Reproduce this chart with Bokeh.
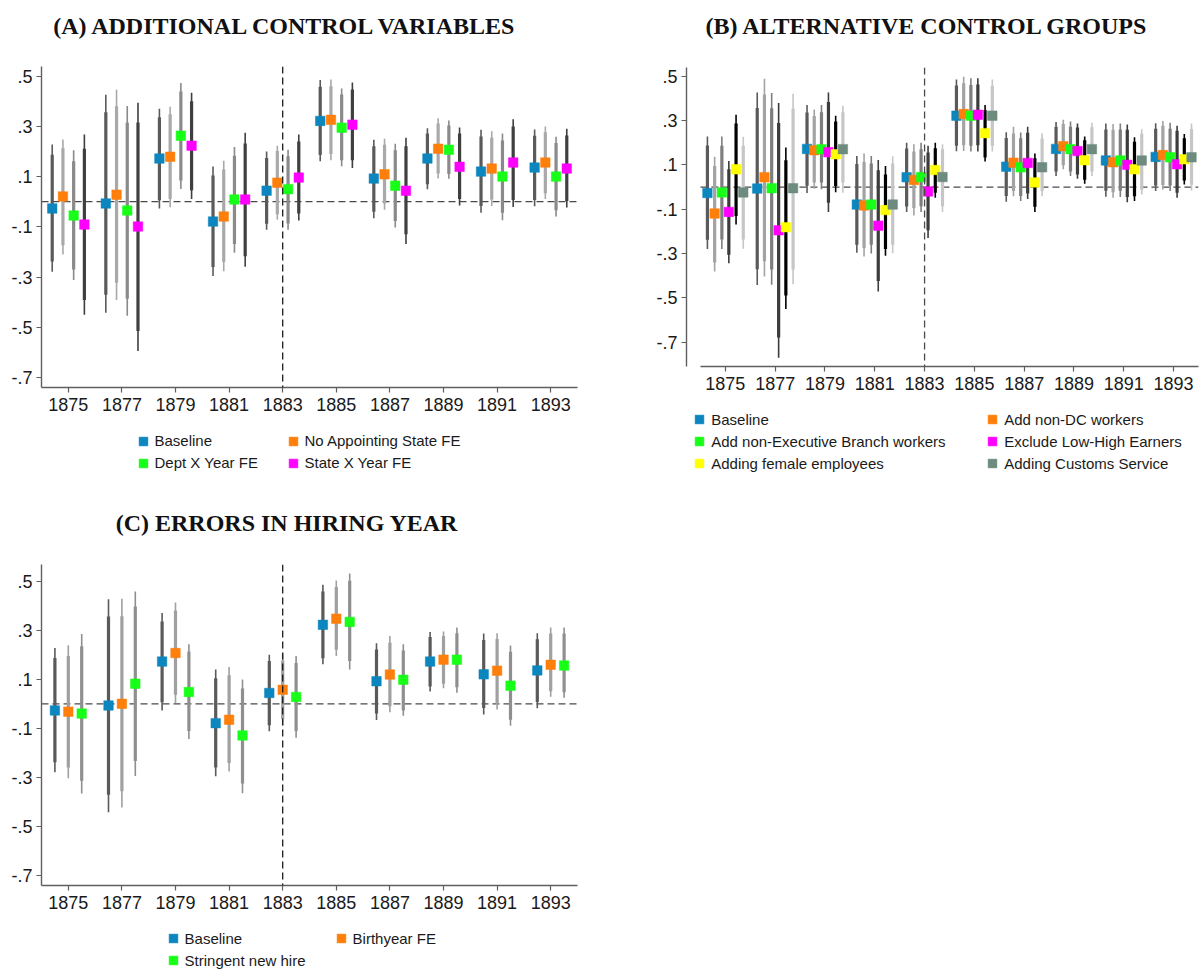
from bokeh.plotting import figure
from bokeh.models import Range1d, FixedTicker, Span, Legend, LegendItem
from bokeh.layouts import row, column
from bokeh.embed import file_html
from bokeh.resources import INLINE
from bokeh.core.properties import value

# ---------------- data ----------------
years = [1875, 1877, 1879, 1881, 1883, 1885, 1887, 1889, 1891, 1893]
year_labels = ["1875", "1877", "1879", "1881", "1883", "1885", "1887", "1889", "1891", "1893"]
y_ticks = [0.5, 0.3, 0.1, -0.1, -0.3, -0.5, -0.7]
y_tick_labels = [".5", ".3", ".1", "-.1", "-.3", "-.5", "-.7"]
treatment_year = 1883

# Baseline (shared by all panels)
base_est  = [-0.027, -0.007, 0.172, -0.079, 0.044, 0.322, 0.092, 0.172, 0.120, 0.136]
base_hi95 = [0.228, 0.426, 0.370, 0.140, 0.200, 0.485, 0.247, 0.293, 0.287, 0.288]
base_lo95 = [-0.279, -0.442, -0.027, -0.296, -0.112, 0.161, -0.066, 0.050, -0.044, -0.018]
base_hi90 = [0.187, 0.356, 0.336, 0.104, 0.174, 0.458, 0.221, 0.272, 0.260, 0.263]
base_lo90 = [-0.238, -0.371, 0.006, -0.260, -0.088, 0.186, -0.040, 0.070, -0.017, 0.007]

# Panel A
noapp_est  = [0.021, 0.028, 0.179, -0.059, 0.076, 0.326, 0.109, 0.211, 0.132, 0.156]
noapp_hi95 = [0.248, 0.446, 0.378, 0.163, 0.223, 0.487, 0.251, 0.332, 0.281, 0.300]
noapp_lo95 = [-0.210, -0.391, -0.022, -0.277, -0.072, 0.165, -0.032, 0.092, -0.017, 0.011]
noapp_hi90 = [0.213, 0.380, 0.348, 0.128, 0.202, 0.460, 0.227, 0.312, 0.255, 0.277]
noapp_lo90 = [-0.173, -0.323, 0.011, -0.240, -0.050, 0.190, -0.007, 0.112, 0.009, 0.034]

dept_est  = [-0.055, -0.035, 0.263, 0.009, 0.050, 0.295, 0.064, 0.207, 0.100, 0.100]
dept_hi95 = [0.205, 0.381, 0.473, 0.218, 0.207, 0.451, 0.231, 0.324, 0.272, 0.259]
dept_lo95 = [-0.312, -0.454, 0.051, -0.203, -0.112, 0.141, -0.103, 0.091, -0.074, -0.059]
dept_hi90 = [0.161, 0.315, 0.439, 0.183, 0.181, 0.427, 0.205, 0.304, 0.244, 0.234]
dept_lo90 = [-0.270, -0.386, 0.085, -0.168, -0.087, 0.165, -0.077, 0.110, -0.044, -0.034]

state_est  = [-0.091, -0.099, 0.223, 0.009, 0.096, 0.307, 0.044, 0.139, 0.156, 0.132]
state_hi95 = [0.268, 0.394, 0.434, 0.275, 0.268, 0.475, 0.255, 0.296, 0.328, 0.291]
state_lo95 = [-0.450, -0.595, 0.011, -0.259, -0.075, 0.134, -0.168, -0.015, -0.021, -0.023]
state_hi90 = [0.211, 0.316, 0.400, 0.232, 0.240, 0.447, 0.221, 0.272, 0.300, 0.264]
state_lo90 = [-0.391, -0.515, 0.046, -0.217, -0.047, 0.165, -0.130, 0.011, 0.007, 0.003]

# Panel B
nondc_est  = [-0.119, 0.044, 0.166, -0.083, 0.032, 0.329, 0.110, 0.184, 0.112, 0.144]
nondc_hi95 = [0.137, 0.488, 0.350, 0.151, 0.193, 0.497, 0.272, 0.304, 0.284, 0.298]
nondc_lo95 = [-0.381, -0.403, -0.008, -0.313, -0.128, 0.163, -0.042, 0.080, -0.048, -0.011]
nondc_hi90 = [0.095, 0.417, 0.320, 0.113, 0.160, 0.468, 0.242, 0.284, 0.258, 0.276]
nondc_lo90 = [-0.340, -0.335, 0.020, -0.275, -0.094, 0.189, -0.018, 0.098, -0.023, 0.009]

nonexec_est  = [-0.024, -0.005, 0.171, -0.079, 0.045, 0.322, 0.089, 0.171, 0.120, 0.134]
nonexec_hi95 = [0.228, 0.424, 0.370, 0.140, 0.200, 0.490, 0.246, 0.296, 0.287, 0.290]
nonexec_lo95 = [-0.279, -0.441, -0.010, -0.300, -0.112, 0.160, -0.063, 0.050, -0.045, -0.018]
nonexec_hi90 = [0.186, 0.355, 0.337, 0.106, 0.170, 0.460, 0.220, 0.272, 0.260, 0.263]
nonexec_lo90 = [-0.237, -0.372, 0.020, -0.260, -0.086, 0.186, -0.040, 0.070, -0.017, 0.007]

lowhigh_est  = [-0.112, -0.195, 0.157, -0.174, -0.020, 0.326, 0.109, 0.162, 0.100, 0.103]
lowhigh_hi95 = [0.118, 0.379, 0.426, 0.122, 0.186, 0.490, 0.272, 0.287, 0.282, 0.276]
lowhigh_lo95 = [-0.343, -0.769, -0.112, -0.471, -0.230, 0.160, -0.054, 0.038, -0.069, -0.048]
lowhigh_hi90 = [0.080, 0.289, 0.384, 0.076, 0.156, 0.462, 0.245, 0.269, 0.258, 0.254]
lowhigh_lo90 = [-0.305, -0.678, -0.071, -0.424, -0.195, 0.189, -0.029, 0.057, -0.045, -0.026]

female_est  = [0.080, -0.181, 0.148, -0.104, 0.077, 0.243, 0.021, 0.121, 0.080, 0.125]
female_hi95 = [0.326, 0.178, 0.322, 0.095, 0.200, 0.370, 0.151, 0.228, 0.224, 0.239]
female_lo95 = [-0.169, -0.550, -0.023, -0.310, -0.048, 0.115, -0.112, 0.015, -0.063, 0.012]
female_hi90 = [0.287, 0.121, 0.295, 0.057, 0.175, 0.347, 0.130, 0.211, 0.204, 0.220]
female_lo90 = [-0.130, -0.489, 0.005, -0.279, -0.026, 0.133, -0.089, 0.033, -0.041, 0.030]

customs_est  = [-0.024, -0.005, 0.171, -0.079, 0.045, 0.322, 0.089, 0.171, 0.120, 0.134]
customs_hi95 = [0.227, 0.421, 0.367, 0.139, 0.193, 0.485, 0.242, 0.290, 0.261, 0.287]
customs_lo95 = [-0.278, -0.438, -0.026, -0.298, -0.112, 0.160, -0.041, 0.050, -0.033, -0.015]
customs_hi90 = [0.186, 0.353, 0.337, 0.106, 0.170, 0.457, 0.219, 0.270, 0.240, 0.262]
customs_lo90 = [-0.237, -0.372, 0.020, -0.260, -0.086, 0.186, -0.018, 0.070, -0.012, 0.010]

# Panel C
birth_est  = [-0.032, 0.000, 0.207, -0.065, 0.057, 0.347, 0.119, 0.180, 0.135, 0.159]
birth_hi95 = [0.239, 0.428, 0.413, 0.150, 0.204, 0.503, 0.276, 0.295, 0.288, 0.311]
birth_lo95 = [-0.304, -0.423, 0.003, -0.276, -0.088, 0.195, -0.035, 0.063, -0.023, 0.029]
birth_hi90 = [0.195, 0.357, 0.380, 0.116, 0.177, 0.476, 0.249, 0.276, 0.264, 0.287]
birth_lo90 = [-0.260, -0.357, 0.037, -0.241, -0.062, 0.220, -0.010, 0.082, 0.000, 0.051]

strict_est  = [-0.040, 0.082, 0.048, -0.129, 0.028, 0.334, 0.098, 0.180, 0.074, 0.156]
strict_hi95 = [0.285, 0.458, 0.243, 0.099, 0.195, 0.531, 0.243, 0.311, 0.238, 0.311]
strict_lo95 = [-0.366, -0.294, -0.144, -0.365, -0.139, 0.140, -0.049, 0.045, -0.090, 0.025]
strict_hi90 = [0.235, 0.397, 0.213, 0.062, 0.166, 0.502, 0.217, 0.288, 0.212, 0.287]
strict_lo90 = [-0.314, -0.233, -0.111, -0.325, -0.111, 0.174, -0.027, 0.067, -0.065, 0.047]

# ---------------- style ----------------
BLUE, ORANGE, GREEN, MAGENTA, YELLOW, TEAL = "#0c86be", "#fe7f0a", "#17ff17", "#ff00ff", "#ffff00", "#6d8b7e"
AXIS_C = "#5f5f5f"
SANS = "Liberation Sans"
SERIF = "Liberation Serif"
MARKER_SIZE = 9.5


def series(label, est, lo95, hi95, lo90, hi90, mcolor, bcolor):
    return dict(label=label, est=est, lo95=lo95, hi95=hi95, lo90=lo90, hi90=hi90,
                mcolor=mcolor, bcolor=bcolor)


def no_align(p):
    if "frame_align" in p.properties():
        p.frame_align = False


def blank_fig(width, height):
    p = figure(width=width, height=height, x_range=Range1d(0, width), y_range=Range1d(0, height),
               x_axis_location=None, y_axis_location=None, output_backend="svg",
               toolbar_location=None, min_border=0, title=None)
    p.grid.visible = False
    p.outline_line_color = None
    p.background_fill_color = "white"
    p.border_fill_color = "white"
    no_align(p)
    return p


def title_fig(width, height, text, cx, baseline_y):
    p = blank_fig(width, height)
    p.text(x=[cx], y=[baseline_y], text=[text], text_font=value(SERIF), text_font_style="bold",
           text_font_size="24px", text_align="center", text_baseline="alphabetic",
           text_color="#111111")
    return p


def legend_fig(width, height, ser, loc, label_w):
    # legend-only panel: the series are plotted in data coordinates (years), which lie
    # outside this panel's pixel range, so only their legend entries are visible
    p = blank_fig(width, height)
    items = []
    for s in ser:
        r = p.scatter(x=years, y=s["est"], marker="square", size=MARKER_SIZE,
                      fill_color=s["mcolor"], line_color=s["mcolor"], line_width=0.5)
        items.append(LegendItem(label=s["label"], renderers=[r]))
    legend = Legend(items=items, location=loc, orientation="horizontal", ncols=2,
                    glyph_width=22, glyph_height=22, label_height=22, label_width=int(label_w),
                    label_standoff=1, spacing=0, padding=0, margin=0,
                    border_line_color=None, background_fill_alpha=0,
                    label_text_font=SANS, label_text_font_size="15px",
                    label_text_color="#1a1a1a")
    p.add_layout(legend)
    return p


def plot_fig(width, height, borders, xr, yr, x_bounds, ser, offsets, vline_color):
    bl, br, bt, bb = borders
    p = figure(width=width, height=height, x_range=Range1d(*xr), y_range=Range1d(*yr),
               output_backend="svg", toolbar_location=None, title=None,
               min_border_left=bl, min_border_right=br, min_border_top=bt, min_border_bottom=bb)
    no_align(p)
    p.grid.visible = False
    p.outline_line_color = None
    p.background_fill_color = "white"
    p.border_fill_color = "white"

    xa, ya = p.xaxis[0], p.yaxis[0]
    xa.ticker = FixedTicker(ticks=years)
    xa.major_label_overrides = {y: l for y, l in zip(years, year_labels)}
    xa.bounds = x_bounds
    ya.ticker = FixedTicker(ticks=y_ticks)
    ya.major_label_overrides = {t: l for t, l in zip(y_ticks, y_tick_labels)}
    for ax in (xa, ya):
        ax.axis_line_color = AXIS_C
        ax.axis_line_width = 1.4
        ax.major_tick_line_color = AXIS_C
        ax.major_tick_line_width = 1.2
        ax.major_tick_in = 0
        ax.major_tick_out = 5
        ax.minor_tick_line_color = None
        ax.major_label_text_font = SANS
        ax.major_label_text_font_size = "18px"
        ax.major_label_text_color = "#1a1a1a"
    xa.major_label_standoff = 5
    ya.major_label_standoff = 4

    # reference lines
    p.segment(x0=[x_bounds[0]], y0=[0], x1=[x_bounds[1]], y1=[0],
              line_color="#4a4a4a", line_width=1.3, line_dash="7 4")
    p.add_layout(Span(location=treatment_year, dimension="height", line_color=vline_color,
                      line_width=1.3, line_dash="7 4"))

    # confidence intervals (95% thin, 90% thick)
    for s, off in zip(ser, offsets):
        xs = [y + off for y in years]
        p.segment(x0=xs, y0=s["lo95"], x1=xs, y1=s["hi95"], line_color=s["bcolor"], line_width=1.6)
        p.segment(x0=xs, y0=s["lo90"], x1=xs, y1=s["hi90"], line_color=s["bcolor"], line_width=3.2)

    # point estimates
    for s, off in zip(ser, offsets):
        xs = [y + off for y in years]
        p.scatter(x=xs, y=s["est"], marker="square", size=MARKER_SIZE,
                  fill_color=s["mcolor"], line_color=s["mcolor"], line_width=0.5)
    return p


panel_a = [
    series("Baseline", base_est, base_lo95, base_hi95, base_lo90, base_hi90, BLUE, "#5a5a5a"),
    series("No Appointing State FE", noapp_est, noapp_lo95, noapp_hi95, noapp_lo90, noapp_hi90, ORANGE, "#a9a9a9"),
    series("Dept X Year FE", dept_est, dept_lo95, dept_hi95, dept_lo90, dept_hi90, GREEN, "#8a8a8a"),
    series("State X Year FE", state_est, state_lo95, state_hi95, state_lo90, state_hi90, MAGENTA, "#3f3f3f"),
]
panel_b = [
    series("Baseline", base_est, base_lo95, base_hi95, base_lo90, base_hi90, BLUE, "#5a5a5a"),
    series("Add non-DC workers", nondc_est, nondc_lo95, nondc_hi95, nondc_lo90, nondc_hi90, ORANGE, "#a3a3a3"),
    series("Add non-Executive Branch workers", nonexec_est, nonexec_lo95, nonexec_hi95, nonexec_lo90, nonexec_hi90, GREEN, "#7e7e7e"),
    series("Exclude Low-High Earners", lowhigh_est, lowhigh_lo95, lowhigh_hi95, lowhigh_lo90, lowhigh_hi90, MAGENTA, "#3c3c3c"),
    series("Adding female employees", female_est, female_lo95, female_hi95, female_lo90, female_hi90, YELLOW, "#000000"),
    series("Adding Customs Service", customs_est, customs_lo95, customs_hi95, customs_lo90, customs_hi90, TEAL, "#c6c6c6"),
]
panel_c = [
    series("Baseline", base_est, base_lo95, base_hi95, base_lo90, base_hi90, BLUE, "#5a5a5a"),
    series("Birthyear FE", birth_est, birth_lo95, birth_hi95, birth_lo90, birth_hi90, ORANGE, "#a0a0a0"),
    series("Stringent new hire", strict_est, strict_lo95, strict_hi95, strict_lo90, strict_hi90, GREEN, "#8f8f8f"),
]

# ---- left column (A then C) ----
tA = title_fig(600, 50, "(A) ADDITIONAL CONTROL VARIABLES", 285.5, 25)
pA = plot_fig(600, 370, (41, 23, 16, 33), (1874, 1894), (-0.740, 0.5386), (1874, 1894),
              panel_a, [-0.6, -0.2, 0.2, 0.6], "#1a1a1a")
lA = legend_fig(600, 60, panel_a, (131.5, 6.3), 127)
tC = title_fig(600, 60, "(C) ERRORS IN HIRING YEAR", 286.5, 17.3)
pC = plot_fig(600, 380, (41, 23, 24, 35), (1874, 1894), (-0.741, 0.568), (1874, 1894),
              panel_c, [-0.5, 0.0, 0.5], "#1a1a1a")
lC = legend_fig(600, 51, panel_c, (161.6, 0), 145)

# ---- right column (B) ----
tB = title_fig(603, 50, "(B) ALTERNATIVE CONTROL GROUPS", 326.8, 25)
pB = plot_fig(603, 346, (86, 5, 17, 30), (1873.44, 1894), (-0.809, 0.539), (1874, 1894),
              panel_b, [-0.72, -0.43, -0.14, 0.14, 0.43, 0.72], "#4a4a4a")
lB = legend_fig(603, 84, panel_b, (88.2, 6), 270)

layout = row(column(tA, pA, lA, tC, pC, lC), column(tB, pB, lB))
open("out.html", "w").write(file_html(layout, INLINE))
